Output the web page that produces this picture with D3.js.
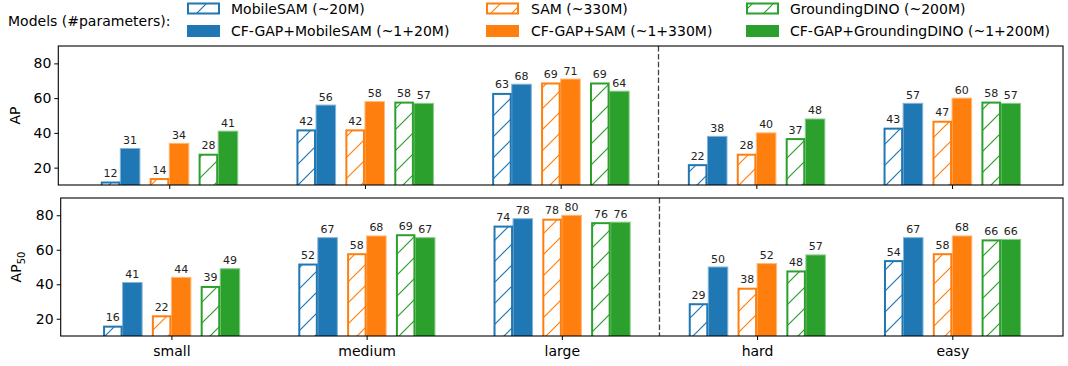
<!DOCTYPE html>
<html>
<head>
<meta charset="utf-8">
<script src="https://cdn.jsdelivr.net/npm/d3@7"></script>
<style>
  html, body { margin: 0; padding: 0; background: #fff; }
  svg { display: block; }
  text { font-family: "DejaVu Sans", sans-serif; fill: #000; }
</style>
</head>
<body>
<svg id="chart" width="1068" height="366"></svg>
<script>
// ---------- data ----------
const categories = ["small", "medium", "large", "hard", "easy"];
const modelNames = ["MobileSAM (~20M)", "SAM (~330M)", "GroundingDINO (~200M)"];
const cfgapNames = ["CF-GAP+MobileSAM (~1+20M)", "CF-GAP+SAM (~1+330M)", "CF-GAP+GroundingDINO (~1+200M)"];
const colors = ["#1f77b4", "#ff7f0e", "#2ca02c"];
const legendTitle = "Models (#parameters):";

// AP panel
const apMobileSAM      = [12, 42, 63, 22, 43];
const apCFGAPMobileSAM = [31, 56, 68, 38, 57];
const apSAM            = [14, 42, 69, 28, 47];
const apCFGAPSAM       = [34, 58, 71, 40, 60];
const apGDINO          = [28, 58, 69, 37, 58];
const apCFGAPGDINO     = [41, 57, 64, 48, 57];

// AP50 panel
const ap50MobileSAM      = [16, 52, 74, 29, 54];
const ap50CFGAPMobileSAM = [41, 67, 78, 50, 67];
const ap50SAM            = [22, 58, 78, 38, 58];
const ap50CFGAPSAM       = [44, 68, 80, 52, 68];
const ap50GDINO          = [39, 69, 76, 48, 66];
const ap50CFGAPGDINO     = [49, 67, 76, 57, 66];

const yTicks = [20, 40, 60, 80];
const yDomain = [10, 90];
const xDomain = [-0.567, 4.567];
const pairOffsets = [-0.25, 0, 0.25];
const barWidth = 0.1;
const separatorAt = 2.5;

// ---------- drawing ----------
const svg = d3.select("#chart");
const defs = svg.append("defs");

const hatchP = 21;
colors.forEach((c, i) => {
  const p = defs.append("pattern")
    .attr("id", "hatch" + i)
    .attr("patternUnits", "userSpaceOnUse")
    .attr("width", hatchP).attr("height", hatchP);
  p.append("rect").attr("width", hatchP).attr("height", hatchP).attr("fill", "#fff");
  p.append("path")
    .attr("d", `M-2,2 L2,-2 M0,${hatchP} L${hatchP},0 M${hatchP - 2},${hatchP + 2} L${hatchP + 2},${hatchP - 2}`)
    .attr("stroke", c).attr("stroke-width", 1.2);
});

const panels = [
  { top: 46, bottom: 185, left: 58.3, right: 1063, label: "AP", sub: null, showX: false,
    hatched: [apMobileSAM, apSAM, apGDINO], filled: [apCFGAPMobileSAM, apCFGAPSAM, apCFGAPGDINO] },
  { top: 198, bottom: 336, left: 60.7, right: 1063, label: "AP", sub: "50", showX: true,
    hatched: [ap50MobileSAM, ap50SAM, ap50GDINO], filled: [ap50CFGAPMobileSAM, ap50CFGAPSAM, ap50CFGAPGDINO] }
];

panels.forEach((pn, pi) => {
  const x = d3.scaleLinear().domain(xDomain).range([pn.left, pn.right]);
  const y = d3.scaleLinear().domain(yDomain).range([pn.bottom, pn.top]);
  const g = svg.append("g");

  defs.append("clipPath").attr("id", "clip" + pi)
    .append("rect").attr("x", pn.left).attr("y", pn.top)
    .attr("width", pn.right - pn.left).attr("height", pn.bottom - pn.top);

  const bars = g.append("g").attr("clip-path", `url(#clip${pi})`);
  const labels = [];
  categories.forEach((cat, ci) => {
    pairOffsets.forEach((off, mi) => {
      const hv = pn.hatched[mi][ci];
      const fv = pn.filled[mi][ci];
      const hx = ci + off - barWidth / 2;
      const fx = ci + off + barWidth / 2;
      // filled
      const lighter = d3.interpolateRgb(colors[mi], "#fff")(0.45);
      bars.append("rect")
        .attr("x", x(fx - barWidth / 2)).attr("width", x(barWidth) - x(0))
        .attr("y", y(fv)).attr("height", y(0) - y(fv))
        .attr("fill", colors[mi]).attr("stroke", lighter).attr("stroke-width", 1);
      // hatched
      bars.append("rect")
        .attr("x", x(hx - barWidth / 2) + 1).attr("width", x(barWidth) - x(0) - 2)
        .attr("y", y(hv) + 1).attr("height", y(0) - y(hv))
        .attr("fill", `url(#hatch${mi})`).attr("stroke", colors[mi]).attr("stroke-width", 2);
      labels.push([hx, hv], [fx, fv]);
    });
  });

  // separator
  g.append("line")
    .attr("x1", x(separatorAt)).attr("x2", x(separatorAt))
    .attr("y1", pn.top).attr("y2", pn.bottom)
    .attr("stroke", "#444").attr("stroke-width", 1.3)
    .attr("stroke-dasharray", "5.5,2.4");

  // frame
  g.append("rect")
    .attr("x", pn.left).attr("y", pn.top)
    .attr("width", pn.right - pn.left).attr("height", pn.bottom - pn.top)
    .attr("fill", "none").attr("stroke", "#000").attr("stroke-width", 1.1);

  // y axis
  const yAxis = d3.axisLeft(y).tickValues(yTicks).tickSize(4).tickPadding(3);
  const ya = g.append("g").attr("transform", `translate(${pn.left},0)`).call(yAxis);
  ya.select(".domain").remove();
  ya.selectAll("text").style("font-size", "14px").style("font-family", "DejaVu Sans");

  // x axis
  const xAxis = d3.axisBottom(x).tickValues(d3.range(categories.length))
    .tickSize(4).tickPadding(6)
    .tickFormat(d => pn.showX ? categories[d] : "");
  const xa = g.append("g").attr("transform", `translate(0,${pn.bottom})`).call(xAxis);
  xa.select(".domain").remove();
  xa.selectAll("text").style("font-size", "14px").style("font-family", "DejaVu Sans");

  // value labels
  labels.forEach(([lx, lv]) => {
    g.append("text")
      .attr("x", x(lx)).attr("y", y(lv) - 4.5)
      .attr("text-anchor", "middle")
      .style("font-size", "11px").style("fill", "#222")
      .text(lv);
  });

  // y label
  const yl = g.append("text")
    .attr("transform", `translate(${pi === 0 ? 19.5 : 20.5},${(pn.top + pn.bottom) / 2}) rotate(-90)`)
    .attr("text-anchor", "middle")
    .style("font-size", "14px");
  yl.append("tspan").text(pn.label);
  if (pn.sub) yl.append("tspan").attr("dy", 4).style("font-size", "10px").text(pn.sub);
});

// ---------- legend ----------
const leg = svg.append("g");
leg.append("text").attr("x", 8).attr("y", 26).style("font-size", "14px").text(legendTitle);
const colX = [187, 486, 746];
const textX = [231, 531, 790];
const rowY = [9, 31];
colors.forEach((c, i) => {
  // hatched entry
  leg.append("rect")
    .attr("x", colX[i] + 1).attr("y", rowY[0] - 5.5).attr("width", 31).attr("height", 10)
    .attr("fill", `url(#hatch${i})`).attr("stroke", c).attr("stroke-width", 2);
  leg.append("text").attr("x", textX[i]).attr("y", rowY[0] + 5).style("font-size", "14px").text(modelNames[i]);
  // filled entry
  leg.append("rect")
    .attr("x", colX[i]).attr("y", rowY[1] - 6).attr("width", 33).attr("height", 12)
    .attr("fill", c);
  leg.append("text").attr("x", textX[i]).attr("y", rowY[1] + 5).style("font-size", "14px").text(cfgapNames[i]);
});
</script>
</body>
</html>
